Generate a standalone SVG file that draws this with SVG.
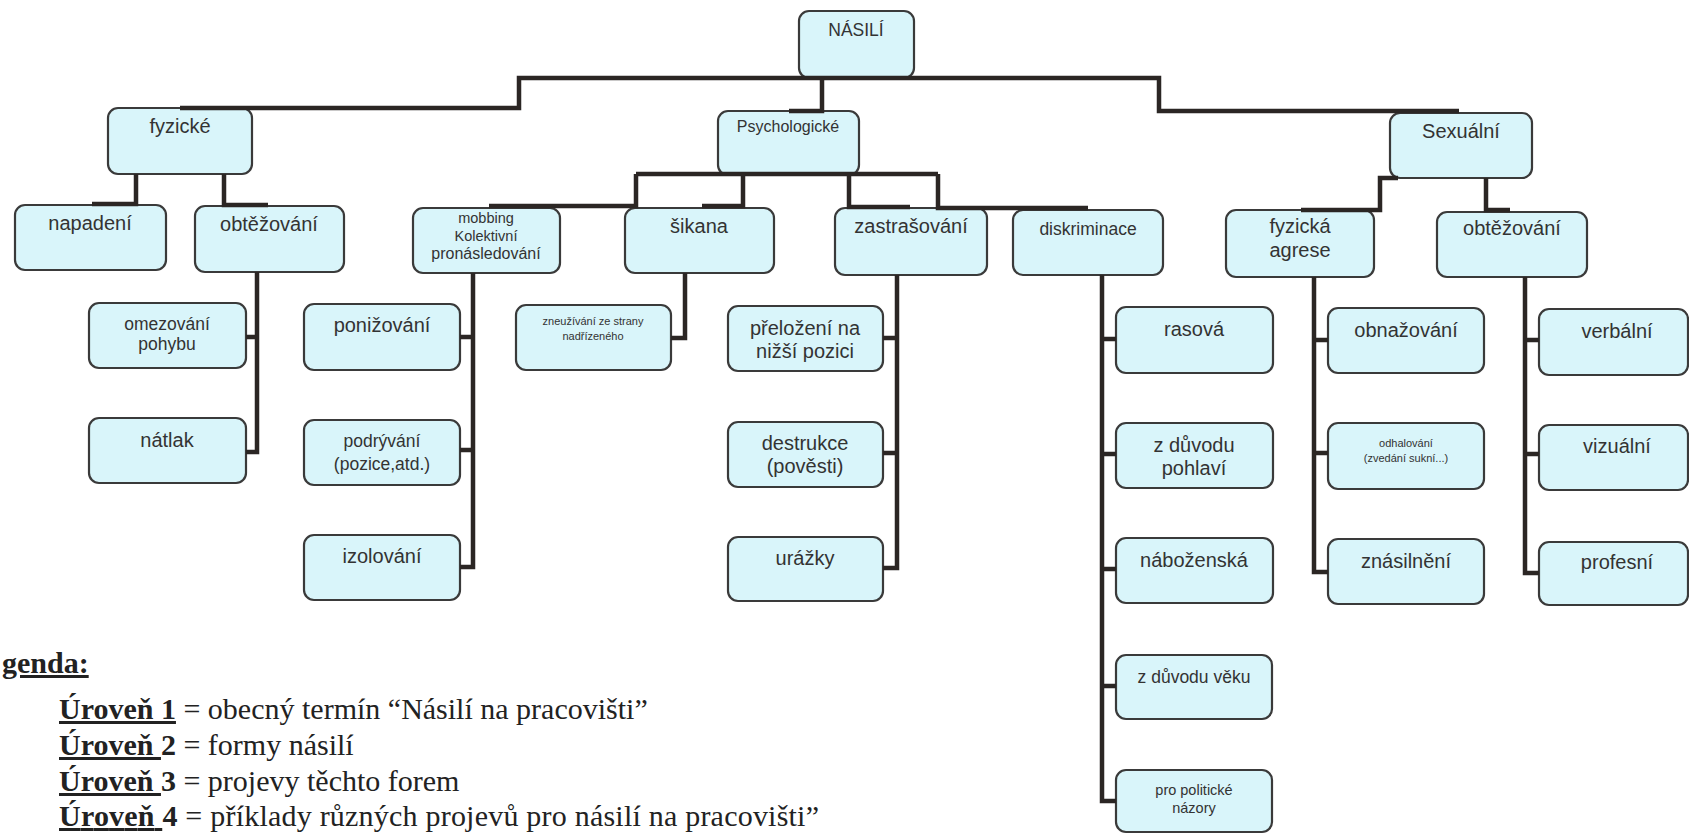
<svg xmlns="http://www.w3.org/2000/svg" width="1689" height="834" viewBox="0 0 1689 834">
<style>
.box{fill:#d9f5fa;stroke:#3a3a3a;stroke-width:2.2}
.n{font-family:"Liberation Sans",Arial,sans-serif;fill:#333;text-anchor:middle}
.s20{font-size:20px}.s18{font-size:17.5px}.s16{font-size:16px}.s15{font-size:14.5px}.s14{font-size:14.5px}.s11{font-size:11px}
.conn path{fill:none;stroke:#2b2624;stroke-width:4.5;stroke-linejoin:miter;stroke-linecap:butt}
.lg{font-family:"Liberation Serif","Times New Roman",serif;font-size:30px;fill:#222}
.b{font-weight:bold}
.u{text-decoration:underline}
</style>
<rect width="1689" height="834" fill="#fff"/>

<g id="n-nasili"><rect class="box" x="799" y="11" width="115" height="67" rx="10"/><text class="n s18" x="856" y="36">NÁSILÍ</text></g>
<g id="n-fyzicke"><rect class="box" x="108" y="108" width="144" height="66" rx="10"/><text class="n s20" x="180" y="133">fyzické</text></g>
<g id="n-psych"><rect class="box" x="718" y="111" width="141" height="64" rx="10"/><text class="n s16" x="788" y="132">Psychologické</text></g>
<g id="n-sexualni"><rect class="box" x="1390" y="113" width="142" height="65" rx="10"/><text class="n s20" x="1461" y="138">Sexuální</text></g>

<g id="n-napadeni"><rect class="box" x="15" y="205" width="151" height="65" rx="10"/><text class="n s20" x="90" y="230">napadení</text></g>
<g id="n-obtez1"><rect class="box" x="195" y="206" width="149" height="66" rx="10"/><text class="n s20" x="269" y="231">obtěžování</text></g>
<g id="n-mobbing"><rect class="box" x="413" y="208" width="147" height="65" rx="10"/><text class="n s15" x="486" y="223">mobbing</text><text class="n s15" x="486" y="241">Kolektivní</text><text class="n s16" x="486" y="259">pronásledování</text></g>
<g id="n-sikana"><rect class="box" x="625" y="208" width="149" height="65" rx="10"/><text class="n s20" x="699" y="233">šikana</text></g>
<g id="n-zastras"><rect class="box" x="835" y="208" width="152" height="67" rx="10"/><text class="n s20" x="911" y="233">zastrašování</text></g>
<g id="n-diskrim"><rect class="box" x="1013" y="210" width="150" height="65" rx="10"/><text class="n s18" x="1088" y="235">diskriminace</text></g>
<g id="n-fagrese"><rect class="box" x="1226" y="210" width="148" height="67" rx="10"/><text class="n s20" x="1300" y="233">fyzická</text><text class="n s20" x="1300" y="257">agrese</text></g>
<g id="n-obtez2"><rect class="box" x="1437" y="212" width="150" height="65" rx="10"/><text class="n s20" x="1512" y="235">obtěžování</text></g>

<g id="n-omezovani"><rect class="box" x="89" y="303" width="157" height="65" rx="10"/><text class="n s18" x="167" y="330">omezování</text><text class="n s18" x="167" y="350">pohybu</text></g>
<g id="n-natlak"><rect class="box" x="89" y="418" width="157" height="65" rx="10"/><text class="n s20" x="167" y="447">nátlak</text></g>
<g id="n-ponizovani"><rect class="box" x="304" y="304" width="156" height="66" rx="10"/><text class="n s20" x="382" y="332">ponižování</text></g>
<g id="n-podryvani"><rect class="box" x="304" y="420" width="156" height="65" rx="10"/><text class="n s18" x="382" y="447">podrývání</text><text class="n s18" x="382" y="470">(pozice,atd.)</text></g>
<g id="n-izolovani"><rect class="box" x="304" y="535" width="156" height="65" rx="10"/><text class="n s20" x="382" y="563">izolování</text></g>
<g id="n-zneuzivani"><rect class="box" x="516" y="305" width="155" height="65" rx="10"/><text class="n s11" x="593" y="325">zneužívání ze strany</text><text class="n s11" x="593" y="340">nadřízeného</text></g>
<g id="n-prelozeni"><rect class="box" x="728" y="306" width="155" height="65" rx="10"/><text class="n s20" x="805" y="335">přeložení na</text><text class="n s20" x="805" y="358">nižší pozici</text></g>
<g id="n-destrukce"><rect class="box" x="728" y="422" width="155" height="65" rx="10"/><text class="n s20" x="805" y="450">destrukce</text><text class="n s20" x="805" y="473">(pověsti)</text></g>
<g id="n-urazky"><rect class="box" x="728" y="537" width="155" height="64" rx="10"/><text class="n s20" x="805" y="565">urážky</text></g>
<g id="n-rasova"><rect class="box" x="1116" y="307" width="157" height="66" rx="10"/><text class="n s20" x="1194" y="336">rasová</text></g>
<g id="n-pohlavi"><rect class="box" x="1116" y="423" width="157" height="65" rx="10"/><text class="n s20" x="1194" y="452">z důvodu</text><text class="n s20" x="1194" y="475">pohlaví</text></g>
<g id="n-nabozenska"><rect class="box" x="1116" y="538" width="157" height="65" rx="10"/><text class="n s20" x="1194" y="567">náboženská</text></g>
<g id="n-veku"><rect class="box" x="1116" y="655" width="156" height="64" rx="10"/><text class="n s18" x="1194" y="683">z důvodu věku</text></g>
<g id="n-politicke"><rect class="box" x="1116" y="770" width="156" height="62" rx="10"/><text class="n s14" x="1194" y="795">pro politické</text><text class="n s14" x="1194" y="813">názory</text></g>
<g id="n-obnazovani"><rect class="box" x="1328" y="308" width="156" height="65" rx="10"/><text class="n s20" x="1406" y="337">obnažování</text></g>
<g id="n-odhalovani"><rect class="box" x="1328" y="423" width="156" height="66" rx="10"/><text class="n s11" x="1406" y="447">odhalování</text><text class="n s11" x="1406" y="462">(zvedání sukní...)</text></g>
<g id="n-znasilneni"><rect class="box" x="1328" y="539" width="156" height="65" rx="10"/><text class="n s20" x="1406" y="568">znásilnění</text></g>
<g id="n-verbalni"><rect class="box" x="1539" y="309" width="149" height="66" rx="10"/><text class="n s20" x="1617" y="338">verbální</text></g>
<g id="n-vizualni"><rect class="box" x="1539" y="425" width="149" height="65" rx="10"/><text class="n s20" x="1617" y="453">vizuální</text></g>
<g id="n-profesni"><rect class="box" x="1539" y="542" width="149" height="63" rx="10"/><text class="n s20" x="1617" y="569">profesní</text></g>

<g class="conn" id="connectors">
<path d="M180,108 H519 V78 H1159 V111 H1459"/>
<path d="M822,78 V111 H789"/>
<path d="M136,174 V204 H92"/>
<path d="M224,174 V205 H268"/>
<path d="M257,272 V452 H246 M257,337 H246"/>
<path d="M636,174 H938"/>
<path d="M636,174 V206 H489"/>
<path d="M743,174 V206 H702"/>
<path d="M849,174 V207 H910"/>
<path d="M938,174 V208 H1088"/>
<path d="M473,273 V567 H460 M473,337 H460 M473,450 H460"/>
<path d="M685,273 V338 H671"/>
<path d="M897,275 V568 H883 M897,338 H883 M897,453 H883"/>
<path d="M1102,275 V801 H1116 M1102,339 H1116 M1102,454 H1116 M1102,569 H1116 M1102,686 H1116"/>
<path d="M1486,178 V210 H1510"/>
<path d="M1398,178 H1380 V210 H1301"/>
<path d="M1314,277 V572 H1328 M1314,340 H1328 M1314,453 H1328"/>
<path d="M1525,277 V573 H1539 M1525,340 H1539 M1525,454 H1539"/>
</g>

<g id="legend">
<text class="lg b u" x="2" y="673">genda:</text>
<text class="lg" x="59" y="719"><tspan class="b u">Úroveň 1</tspan> = obecný termín “Násilí na pracovišti”</text>
<text class="lg" x="59" y="755"><tspan class="b u">Úroveň </tspan><tspan class="b">2</tspan> = formy násilí</text>
<text class="lg" x="59" y="791"><tspan class="b u">Úroveň </tspan><tspan class="b">3</tspan> = projevy těchto forem</text>
<text class="lg" x="59" y="826" textLength="760" lengthAdjust="spacing"><tspan class="b u">Úroveň </tspan><tspan class="b">4</tspan> = příklady různých projevů pro násilí na pracovišti”</text>
</g>
</svg>
